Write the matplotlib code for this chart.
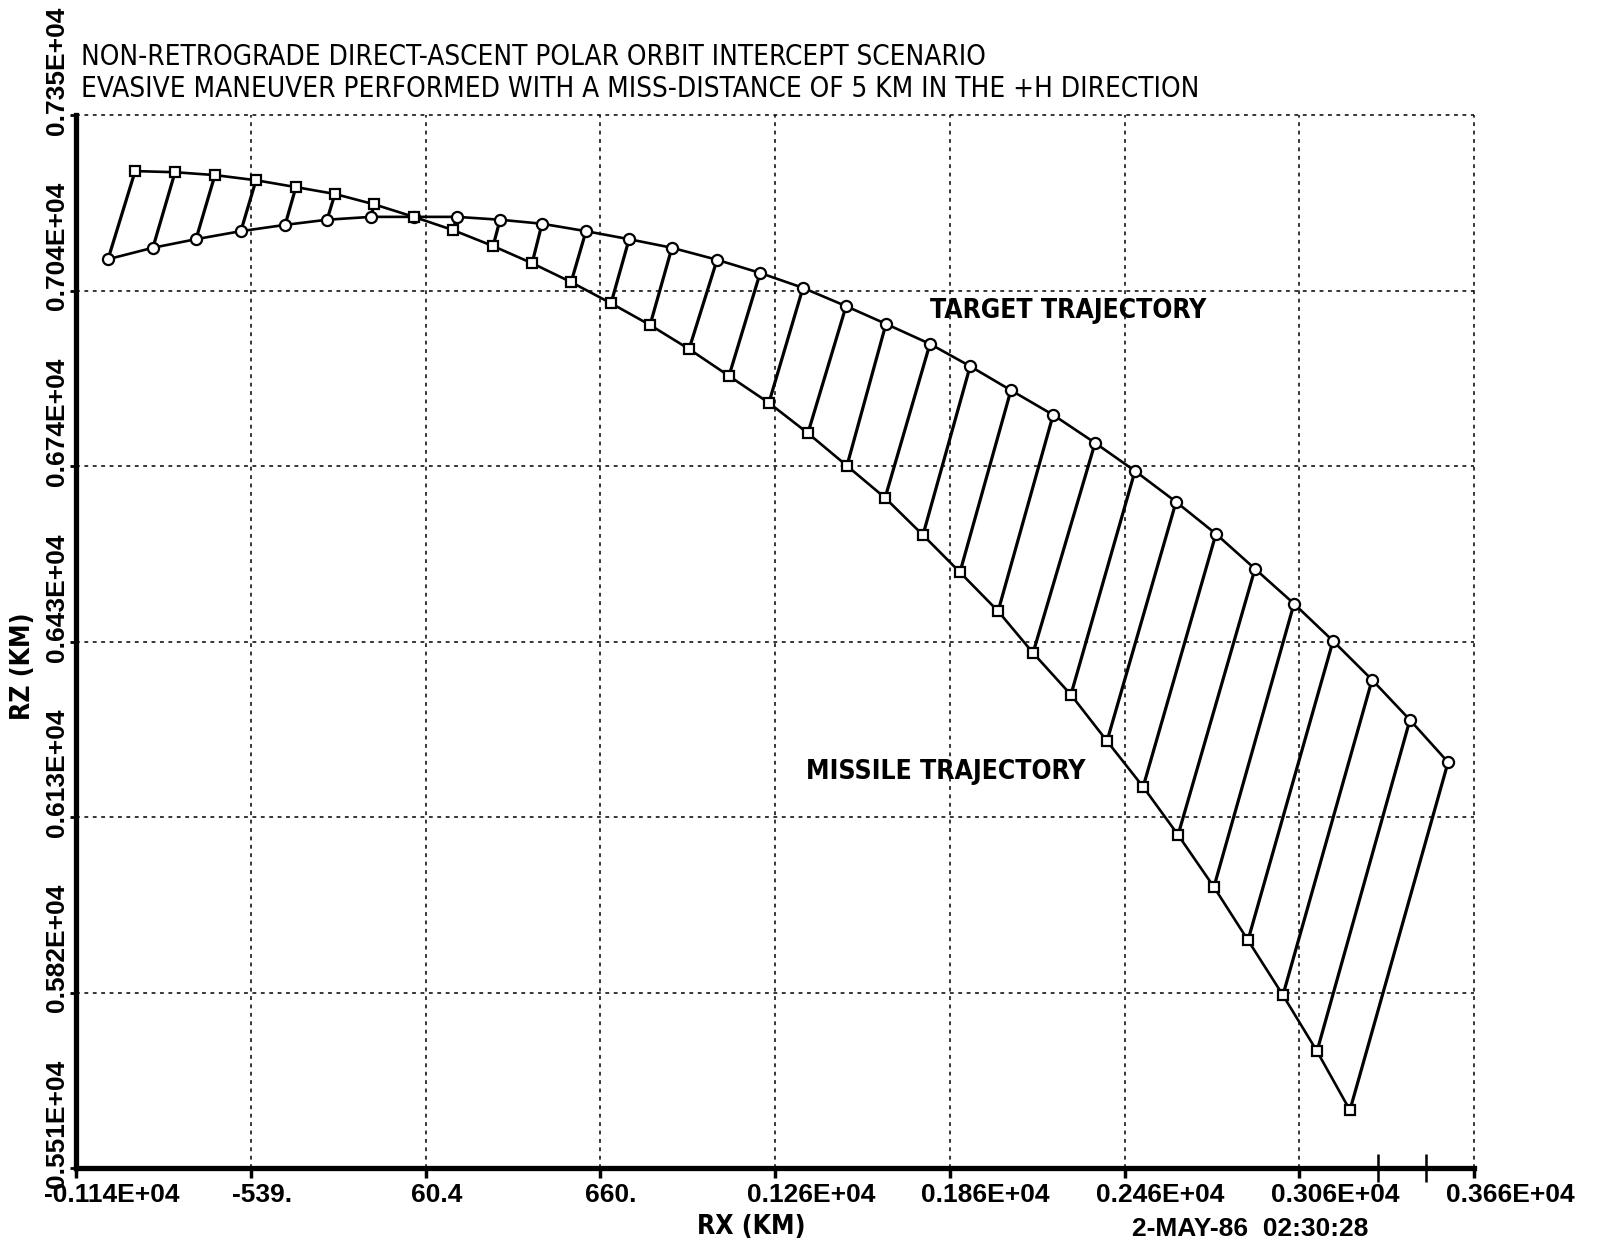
import matplotlib
matplotlib.use('Agg')
import matplotlib.pyplot as plt
import numpy as np
from matplotlib import transforms, font_manager

# target trajectory (circles), RX / RZ in km
target_x = [-1030, -876, -728, -574, -422, -278, -127, 20, 168, 316, 460,
            611, 759, 906, 1061, 1209, 1356, 1504, 1641, 1792, 1930, 2070,
            2215, 2359, 2496, 2637, 2774, 2908, 3042, 3176, 3310, 3440, 3571]
target_z = [7098, 7118, 7133, 7147, 7158, 7167, 7172, 7172, 7172, 7167, 7160,
            7147, 7133, 7118, 7097, 7074, 7048, 7016, 6985, 6950, 6911, 6869,
            6826, 6777, 6728, 6674, 6618, 6557, 6496, 6431, 6363, 6293, 6219]

# missile trajectory (squares)
missile_x = [-937, -800, -663, -522, -385, -251, -117, 20, 154, 292, 426,
             560, 697, 831, 965, 1102, 1239, 1373, 1507, 1638, 1768, 1895,
             2026, 2146, 2276, 2400, 2524, 2644, 2767, 2884, 3004, 3121, 3234]
missile_z = [7252, 7250, 7245, 7236, 7224, 7212, 7194, 7172, 7149, 7121, 7091,
             7058, 7021, 6983, 6941, 6894, 6847, 6794, 6737, 6681, 6616, 6551,
             6483, 6410, 6337, 6256, 6176, 6092, 6001, 5908, 5812, 5714, 5611]

xticks = np.linspace(-1140, 3660, 9)
xtick_labels = ['-0.114E+04', '-539.', '60.4', '660.', '0.126E+04',
                '0.186E+04', '0.246E+04', '0.306E+04', '0.366E+04']
yticks = np.linspace(5510, 7350, 7)
ytick_labels = ['0.551E+04', '0.582E+04', '0.613E+04', '0.643E+04',
                '0.674E+04', '0.704E+04', '0.735E+04']
pen_marks = [3330, 3495]

title1 = 'NON-RETROGRADE DIRECT-ASCENT POLAR ORBIT INTERCEPT SCENARIO'
title2 = 'EVASIVE MANEUVER PERFORMED WITH A MISS-DISTANCE OF 5 KM IN THE +H DIRECTION'

names = {f.name for f in font_manager.fontManager.ttflist}
wide = 'Liberation Sans' if 'Liberation Sans' in names else 'DejaVu Sans'
narrow = dict(family='DejaVu Sans', fontstretch='condensed', fontweight='bold')
narrow_thin = dict(family='DejaVu Sans', fontstretch='condensed')

fig = plt.figure(figsize=(16, 12.46), dpi=100)
ax = fig.add_axes([76/1600, 78/1246, 1398/1600, 1053/1246])

# rungs joining simultaneous positions
ax.plot(np.vstack([missile_x, target_x]), np.vstack([missile_z, target_z]),
        color='black', lw=2.3, solid_capstyle='round')
ax.plot(target_x, target_z, color='black', lw=1.9, marker='o', ms=8,
        mfc='white', mec='black', mew=1.6, zorder=3)
ax.plot(missile_x, missile_z, color='black', lw=1.9, marker='s', ms=7.5,
        mfc='white', mec='black', mew=1.6, zorder=3)

ax.set_xlim(xticks[0], xticks[-1])
ax.set_ylim(yticks[0], yticks[-1])
ax.set_xticks(xticks)
ax.set_yticks(yticks)
ax.set_xticklabels([])
ax.set_yticklabels([])
ax.set_xticks(pen_marks, minor=True)
ax.tick_params(axis='x', which='major', direction='out', length=7, width=2.5)
ax.tick_params(axis='x', which='minor', direction='inout', length=20, width=1.8)
ax.tick_params(axis='y', which='major', direction='out', length=4, width=2)

ax.grid(True, color='black', linestyle=(0, (2.5, 3)), linewidth=1.1)
for gl in ax.get_xgridlines() + ax.get_ygridlines():
    gl.set_clip_on(False)
for s in ['top', 'right']:
    ax.spines[s].set_visible(False)
for s in ['left', 'bottom']:
    ax.spines[s].set_linewidth(3.8)

def px(dx, dy):
    return transforms.ScaledTranslation(dx/100, dy/100, fig.dpi_scale_trans)

for v, lab in zip(xticks, xtick_labels):
    dx = 36 if 'E' in lab else 11
    ax.text(v, 0, lab, transform=ax.get_xaxis_transform() + px(dx, -15),
            ha='center', va='top', fontsize=19, family=wide, fontweight='bold',
            clip_on=False)

for v, lab in zip(yticks, ytick_labels):
    ax.text(0, v, lab, transform=ax.get_yaxis_transform() + px(-7, -20),
            ha='right', va='bottom', rotation=90, fontsize=19, family=wide,
            fontweight='bold', clip_on=False)

fig.text(81/1600, 1 - 57/1246, title1, fontsize=20, va='center', **narrow_thin)
fig.text(81/1600, 1 - 89/1246, title2, fontsize=20, va='center', **narrow_thin)
fig.text(23/1600, 1 - 666/1246, 'RZ (KM)', rotation=90, fontsize=19,
         ha='center', va='center', **narrow)
fig.text(751/1600, 1 - 1227/1246, 'RX (KM)', fontsize=19,
         ha='center', va='center', **narrow)
fig.text(1250/1600, 1 - 1229/1246, '2-MAY-86  02:30:28', fontsize=19,
         family=wide, fontweight='bold', ha='center', va='center')

ax.text(1792, 7007, 'TARGET TRAJECTORY', fontsize=19, va='center', **narrow)
ax.text(1366, 6202, 'MISSILE TRAJECTORY', fontsize=19, va='center', **narrow)

fig.savefig('out.png', dpi=100, facecolor='white')
